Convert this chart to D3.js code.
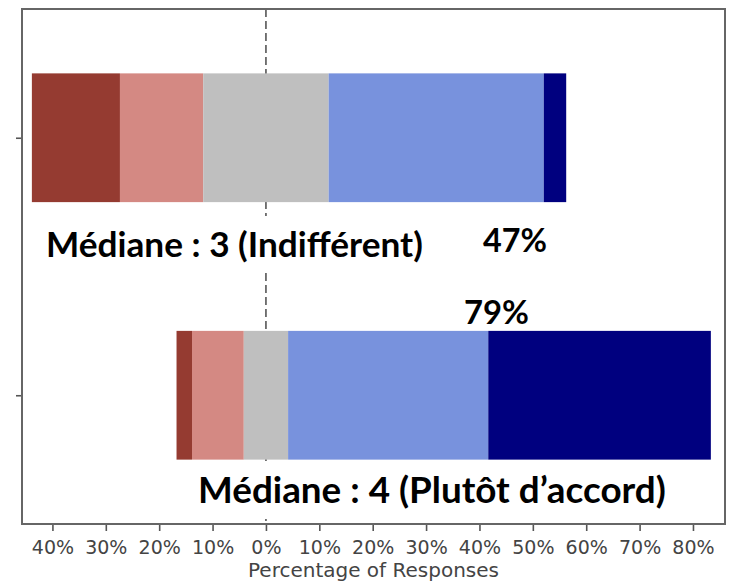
<!DOCTYPE html>
<html>
<head>
<meta charset="utf-8">
<script src="https://cdn.jsdelivr.net/npm/d3@7/dist/d3.min.js"></script>
<style>
  html, body { margin: 0; padding: 0; background: #fff; }
  svg { display: block; }
</style>
</head>
<body>
<svg id="chart" width="729" height="585"></svg>
<script>
// ---- data ----
const categories = ["Q1", "Q2"];
const levels = ["Pas du tout d'accord", "Plutôt pas d'accord", "Indifférent", "Plutôt d'accord", "Tout à fait d'accord"];
const stronglyDisagree = [16.5, 2.9];
const disagree = [15.6, 9.7];
const neutral = [23.5, 8.3];
const agree = [40.3, 37.5];
const stronglyAgree = [4.2, 41.7];
const xTicks = [-40, -30, -20, -10, 0, 10, 20, 30, 40, 50, 60, 70, 80];
const agreeLabels = ["47%", "79%"];
const medianLabels = ["Médiane : 3 (Indifférent)", "Médiane : 4 (Plutôt d’accord)"];
const levelColors = ["#953b31", "#d48983", "#bfbfbf", "#7892dd", "#00007f"];

const series = [stronglyDisagree, disagree, neutral, agree, stronglyAgree];

const svg = d3.select("#chart");
const frame = { left: 22, right: 725, top: 9, bottom: 524 };

const x = d3.scaleLinear().domain([-45.7, 86]).range([frame.left, frame.right]);
const y = d3.scaleLinear().domain([-0.5, 1.5]).range([frame.top, frame.bottom]);
const barH = 0.5;

// dashed zero line (behind bars)
svg.append("line")
  .attr("x1", x(0)).attr("x2", x(0))
  .attr("y1", frame.top).attr("y2", frame.bottom)
  .attr("stroke", "#555").attr("stroke-width", 1.6)
  .attr("stroke-dasharray", "8,4");

// stacked bars, neutral centred on 0
categories.forEach((c, i) => {
  let start = -(stronglyDisagree[i] + disagree[i] + neutral[i] / 2);
  series.forEach((s, k) => {
    const v = s[i];
    svg.append("rect")
      .attr("x", x(start))
      .attr("width", x(start + v) - x(start))
      .attr("y", y(i - barH / 2))
      .attr("height", y(i + barH / 2) - y(i - barH / 2))
      .attr("fill", levelColors[k]);
    start += v;
  });
});

// x axis
const xAxis = d3.axisBottom(x).tickValues(xTicks)
  .tickFormat(d => Math.abs(d) + "%")
  .tickSize(7).tickPadding(9.5);
const gx = svg.append("g").attr("transform", `translate(0,${frame.bottom})`).call(xAxis);
gx.select(".domain").remove();
gx.selectAll(".tick line").attr("stroke", "#555").attr("stroke-width", 1.6);
gx.selectAll(".tick text")
  .attr("fill", "#444")
  .style("font-family", "DejaVu Sans")
  .style("font-size", "19px");

// y axis ticks (no labels)
const yAxis = d3.axisLeft(y).tickValues([0, 1]).tickFormat("").tickSize(6);
const gy = svg.append("g").attr("transform", `translate(${frame.left},0)`).call(yAxis);
gy.select(".domain").remove();
gy.selectAll(".tick line").attr("stroke", "#555").attr("stroke-width", 1.6);

// axis label
svg.append("text")
  .attr("x", (frame.left + frame.right) / 2).attr("y", 577)
  .attr("text-anchor", "middle")
  .attr("fill", "#444")
  .style("font-family", "DejaVu Sans").style("font-size", "20px")
  .text("Percentage of Responses");

// overlay annotations (text boxes with white background)
const fontBold = "Lato, 'Open Sans', sans-serif";
const ann = svg.append("g");
function fitText(sel, width) {
  const w = sel.node().getComputedTextLength();
  const fs = parseFloat(sel.style("font-size"));
  sel.style("font-size", (fs * width / w) + "px");
}
function addBox(sel, padX, padTop, padBottom) {
  const b = sel.node().getBBox();
  ann.insert("rect", () => sel.node())
    .attr("x", b.x - padX).attr("y", b.y - padTop)
    .attr("width", b.width + 2 * padX).attr("height", b.height + padTop + padBottom)
    .attr("fill", "#fff");
}

const m1 = ann.append("text")
  .attr("x", 46).attr("y", 257)
  .style("font-family", fontBold).style("font-weight", 700).style("font-size", "28px")
  .attr("fill", "#000")
  .text(medianLabels[0]);
fitText(m1, 377);
addBox(m1, 6, 6, 8);

const m2 = ann.append("text")
  .attr("x", 198).attr("y", 503)
  .style("font-family", fontBold).style("font-weight", 700).style("font-size", "28px")
  .attr("fill", "#000")
  .text(medianLabels[1]);
fitText(m2, 468);
addBox(m2, 6, 2, 8);

const p1 = ann.append("text")
  .attr("x", 483).attr("y", 252)
  .style("font-family", fontBold).style("font-weight", 700).style("font-size", "30px")
  .attr("fill", "#000")
  .text(agreeLabels[0]);
fitText(p1, 64);

const p2 = ann.append("text")
  .attr("x", 464).attr("y", 324)
  .style("font-family", fontBold).style("font-weight", 700).style("font-size", "30px")
  .attr("fill", "#000")
  .text(agreeLabels[1]);
fitText(p2, 65);

// frame on top
svg.append("rect")
  .attr("x", frame.left).attr("y", frame.top)
  .attr("width", frame.right - frame.left).attr("height", frame.bottom - frame.top)
  .attr("fill", "none").attr("stroke", "#666").attr("stroke-width", 2);
</script>
</body>
</html>
